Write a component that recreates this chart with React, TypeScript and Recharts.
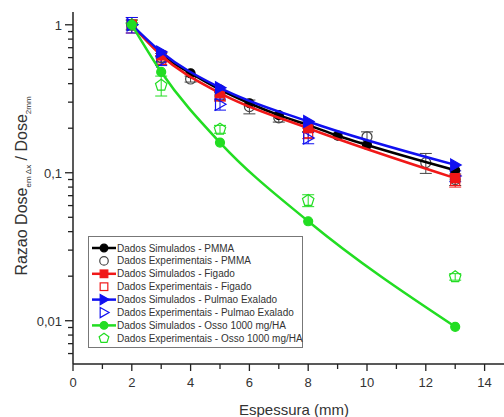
import React from 'react'
import { ComposedChart, Scatter, XAxis, YAxis, ErrorBar } from 'recharts'

// espessura (mm) e razão de dose
const pmmaSimX = [2, 3, 4, 5, 6, 7, 8, 9, 10, 13]
const pmmaSimY = [1, 0.63, 0.47, 0.365, 0.295, 0.245, 0.21, 0.178, 0.154, 0.104]
const pmmaExpX = [2, 3, 4, 5, 6, 7, 8, 10, 12, 13]
const pmmaExpY = [1, 0.6, 0.43, 0.33, 0.28, 0.235, 0.205, 0.175, 0.117, 0.09]
const pmmaExpErr = [0.08, 0.04, 0.02, 0.02, 0.03, 0.015, 0.015, 0.014, 0.018, 0.008]

const tecidoX = [2, 3, 5, 8, 13]
const figadoSim = [1, 0.62, 0.345, 0.2, 0.092]
const figadoExp = [1, 0.58, 0.33, 0.185, 0.088]
const figadoErr = [0.12, 0.04, 0.025, 0.015, 0.008]
const pulmaoSim = [1, 0.655, 0.375, 0.222, 0.113]
const pulmaoExp = [1, 0.57, 0.29, 0.172, 0.095]
const pulmaoErr = [0.12, 0.04, 0.025, 0.015, 0.008]
const ossoSim = [1, 0.48, 0.16, 0.047, 0.0091]
const ossoExp = [1, 0.39, 0.197, 0.065, 0.0198]
const ossoErr = [0.07, 0.06, 0.012, 0.006, 0.001]

const xTicks = [0, 1, 2, 3, 4, 5, 6, 7, 8, 9, 10, 11, 12, 13, 14]
const yMajor = [0.01, 0.1, 1]
const yTicks = [0.006, 0.007, 0.008, 0.009, 0.01, 0.02, 0.03, 0.04, 0.05, 0.06, 0.07, 0.08, 0.09, 0.1,
    0.2, 0.3, 0.4, 0.5, 0.6, 0.7, 0.8, 0.9, 1]

const zip = (xs: number[], ys: number[], errs?: number[]) =>
    xs.map((x, i) => ({ x, y: ys[i], err: errs ? errs[i] : 0 }))

const BLACK = '#000000'
const GRAY = '#444444'
const RED = '#f01818'
const BLUE = '#1010f0'
const GREEN = '#22dd22'
const FONT = 'Liberation Sans, Arial'

const Marker = ({ kind, color, cx, cy, filled, s = 1 }: any) => {
    if (cx == null || cy == null) return null
    const fill = filled ? color : 'none'
    const sw = 1.2
    if (kind === 'circle') return <circle cx={cx} cy={cy} r={(filled ? 4.5 : 5) * s} fill={fill} stroke={color} strokeWidth={sw} />
    if (kind === 'square') return <rect x={cx - 4.5 * s} y={cy - 4.5 * s} width={9 * s} height={9 * s} fill={fill} stroke={color} strokeWidth={sw} />
    if (kind === 'triangle')
        return <polygon points={`${cx - 4.5 * s},${cy - 6 * s} ${cx + 6 * s},${cy} ${cx - 4.5 * s},${cy + 6 * s}`} fill={fill} stroke={color} strokeWidth={sw} />
    const pts = [0, 1, 2, 3, 4].map((i) => {
        const a = -Math.PI / 2 + (i * 2 * Math.PI) / 5
        return `${cx + 6 * s * Math.cos(a)},${cy + 6 * s * Math.sin(a)}`
    })
    return <polygon points={pts.join(' ')} fill={fill} stroke={color} strokeWidth={sw} />
}

const YTick = ({ x, y, payload }: any) => {
    const v = payload.value
    const major = yMajor.some((m) => Math.abs(m - v) < 1e-9)
    return (
        <g>
            <line x1={x - (major ? 8 : 5)} y1={y} x2={x} y2={y} stroke="#222" strokeWidth={1.3} />
            {major && (
                <text x={x - 11} y={y + 5} textAnchor="end" fontSize={13} fill="#333" fontFamily={FONT}>
                    {String(v).replace('.', ',')}
                </text>
            )}
        </g>
    )
}

const XTick = ({ x, y, payload }: any) => {
    const v = payload.value
    const major = v % 2 === 0
    return (
        <g>
            <line x1={x} y1={y} x2={x} y2={y + (major ? 7 : 5)} stroke="#222" strokeWidth={1.3} />
            {major && (
                <text x={x} y={y + 23} textAnchor="middle" fontSize={13} fill="#333" fontFamily={FONT}>
                    {v}
                </text>
            )}
        </g>
    )
}

const legendItems = [
    { label: 'Dados Simulados - PMMA', color: BLACK, kind: 'circle', filled: true },
    { label: 'Dados Experimentais - PMMA', color: GRAY, kind: 'circle', filled: false },
    { label: 'Dados Simulados - Figado', color: RED, kind: 'square', filled: true },
    { label: 'Dados Experimentais - Figado', color: RED, kind: 'square', filled: false },
    { label: 'Dados Simulados - Pulmao Exalado', color: BLUE, kind: 'triangle', filled: true },
    { label: 'Dados Experimentais - Pulmao Exalado', color: BLUE, kind: 'triangle', filled: false },
    { label: 'Dados Simulados - Osso 1000 mg/HA', color: GREEN, kind: 'circle', filled: true },
    { label: 'Dados Experimentais - Osso 1000 mg/HA', color: GREEN, kind: 'pentagon', filled: false },
]

const simSeries = [
    { data: zip(pmmaSimX, pmmaSimY), color: BLACK, kind: 'circle' },
    { data: zip(tecidoX, figadoSim), color: RED, kind: 'square' },
    { data: zip(tecidoX, pulmaoSim), color: BLUE, kind: 'triangle' },
    { data: zip(tecidoX, ossoSim), color: GREEN, kind: 'circle' },
]

const expSeries = [
    { data: zip(pmmaExpX, pmmaExpY, pmmaExpErr), color: GRAY, kind: 'circle' },
    { data: zip(tecidoX, figadoExp, figadoErr), color: RED, kind: 'square' },
    { data: zip(tecidoX, pulmaoExp, pulmaoErr), color: BLUE, kind: 'triangle' },
    { data: zip(tecidoX, ossoExp, ossoErr), color: GREEN, kind: 'pentagon' },
]

export default function App() {
    return (
        <div style={{ position: 'absolute', left: 0, top: 0, width: 504, height: 417, overflow: 'hidden', background: '#fff' }}>
            <ComposedChart width={520} height={417} margin={{ top: 12, right: 6, bottom: 0, left: 0 }}>
                <XAxis xAxisId="top" orientation="top" type="number" domain={[0, 15]} height={0}
                    tick={false} tickLine={false} axisLine={{ stroke: '#666', strokeWidth: 2 }} />
                <XAxis dataKey="x" type="number" domain={[0, 15]} ticks={xTicks} interval={0} height={53}
                    tickSize={0} tickMargin={0} tickLine={false} tick={<XTick />}
                    axisLine={{ stroke: '#222', strokeWidth: 1.5 }} allowDataOverflow />
                <YAxis dataKey="y" type="number" scale="log" domain={[0.0051, 1.22]} ticks={yTicks} interval={0}
                    width={73} tickSize={0} tickMargin={0} tickLine={false} tick={<YTick />}
                    axisLine={{ stroke: '#222', strokeWidth: 1.5 }} allowDataOverflow />
                {expSeries.map((s, i) => (
                    <Scatter key={'e' + i} data={s.data} isAnimationActive={false}
                        shape={(p: any) => <Marker kind={s.kind} color={s.color} cx={p.cx} cy={p.cy} filled={false} />}>
                        <ErrorBar dataKey="err" direction="y" width={6} stroke={s.color} strokeWidth={1} />
                    </Scatter>
                ))}
                {simSeries.map((s, i) => (
                    <Scatter key={'s' + i} data={s.data} isAnimationActive={false}
                        line={{ stroke: s.color, strokeWidth: 2.5 }} lineJointType="monotoneX"
                        shape={(p: any) => <Marker kind={s.kind} color={s.color} cx={p.cx} cy={p.cy} filled />} />
                ))}
            </ComposedChart>
            <svg width={504} height={417} style={{ position: 'absolute', left: 0, top: 0, pointerEvents: 'none' }}>
                <text transform="translate(27,186) rotate(-90)" textAnchor="middle" fontSize={16} fill="#333" fontFamily={FONT}>
                    Razao Dose
                    <tspan fontSize={8} dy={4}>em Δx</tspan>
                    <tspan dy={-4}> / Dose</tspan>
                    <tspan fontSize={8} dy={4}>2mm</tspan>
                </text>
                <text x={294} y={415} textAnchor="middle" fontSize={15} fill="#333" fontFamily={FONT}>
                    Espessura (mm)
                </text>
                <rect x={88.5} y={236.5} width={214} height={111} fill="#fff" stroke="#777" strokeWidth={1} />
                {legendItems.map((it, i) => {
                    const cy = 248 + i * 12.9
                    return (
                        <g key={i}>
                            {it.filled && <line x1={92} y1={cy} x2={116} y2={cy} stroke={it.color} strokeWidth={2.5} />}
                            <Marker kind={it.kind} color={it.color} cx={104} cy={cy} filled={it.filled} s={0.85} />
                            <text x={117} y={cy + 3.5} fontSize={10} fill="#333" fontFamily={FONT}>
                                {it.label}
                            </text>
                        </g>
                    )
                })}
            </svg>
        </div>
    )
}
